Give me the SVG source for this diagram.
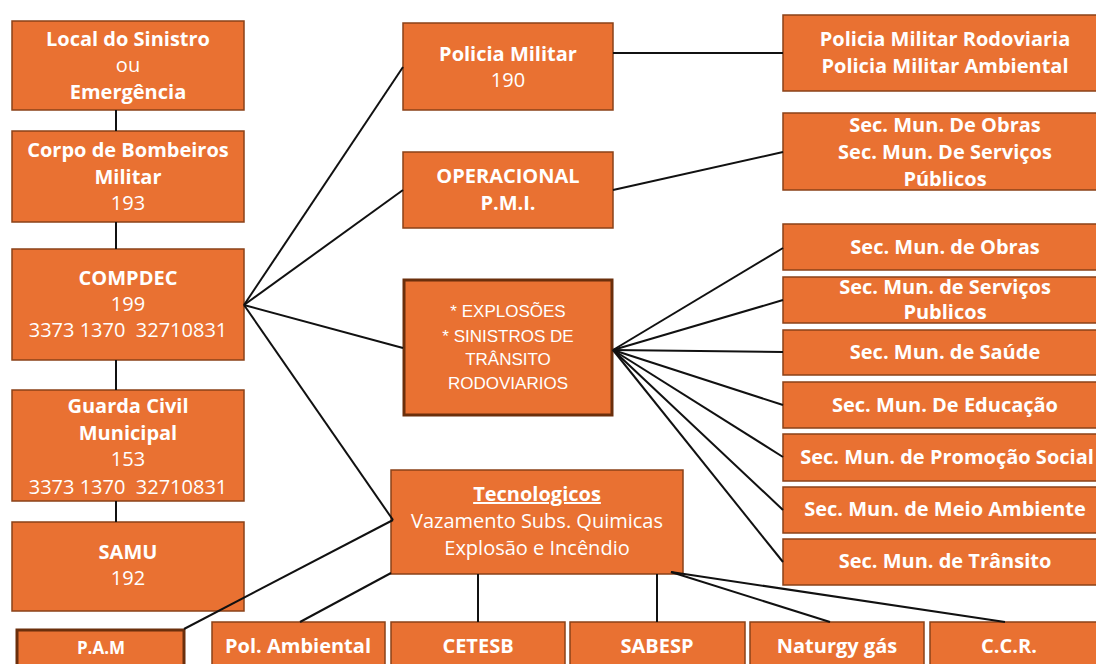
<svg xmlns="http://www.w3.org/2000/svg" width="1096" height="664" viewBox="0 0 1096 664">
<style>
.b{fill:#E97132;stroke:#8a4218;stroke-width:1.5}
.bt{fill:#E97132;stroke:#6b2f0c;stroke-width:3}
text{font-family:"Open Sans","Liberation Sans",Arial,sans-serif;fill:#fff;text-anchor:middle}
.h{font-size:20px;font-weight:bold}
.n{font-size:20px}
.s{font-size:17px;font-family:"Liberation Sans",Arial,sans-serif}
.p{font-size:17px;font-weight:bold}
.c line{stroke:#111;stroke-width:2}
</style>
<rect width="1096" height="664" fill="#fff"/>
<g id="local"><rect class="b" x="12" y="21" width="232" height="89"/><text class="h" x="128" y="46">Local do Sinistro</text><text class="n" x="128" y="72">ou</text><text class="h" x="128" y="99">Emergência</text></g>
<g id="bombeiros"><rect class="b" x="12" y="131" width="232" height="91"/><text class="h" x="128" y="157">Corpo de Bombeiros</text><text class="h" x="128" y="184">Militar</text><text class="n" x="128" y="210">193</text></g>
<g id="compdec"><rect class="b" x="12" y="249" width="232" height="111"/><text class="h" x="128" y="285">COMPDEC</text><text class="n" x="128" y="311">199</text><text class="n" x="128" y="337" xml:space="preserve">3373 1370  32710831</text></g>
<g id="guarda"><rect class="b" x="12" y="390" width="232" height="111"/><text class="h" x="128" y="413">Guarda Civil</text><text class="h" x="128" y="440">Municipal</text><text class="n" x="128" y="466">153</text><text class="n" x="128" y="494" xml:space="preserve">3373 1370  32710831</text></g>
<g id="samu"><rect class="b" x="12" y="522" width="232" height="89"/><text class="h" x="128" y="559">SAMU</text><text class="n" x="128" y="585">192</text></g>
<g id="pam"><rect class="bt" x="17" y="630" width="167" height="50"/><text class="p" x="101" y="654">P.A.M</text></g>
<g id="pm"><rect class="b" x="403" y="23" width="210" height="87"/><text class="h" x="508" y="61">Policia Militar</text><text class="n" x="508" y="87">190</text></g>
<g id="operacional"><rect class="b" x="403" y="152" width="210" height="76"/><text class="h" x="508" y="183">OPERACIONAL</text><text class="h" x="508" y="210">P.M.I.</text></g>
<g id="explosoes"><rect class="bt" x="404" y="280" width="208" height="135"/><text class="s" x="508" y="317">* EXPLOSÕES</text><text class="s" x="508" y="342">* SINISTROS DE</text><text class="s" x="508" y="365">TRÂNSITO</text><text class="s" x="508" y="389">RODOVIARIOS</text></g>
<g id="tecnologicos"><rect class="b" x="391" y="470" width="292" height="104"/><text class="h" x="537" y="501" text-decoration="underline">Tecnologicos</text><text class="n" x="537" y="528">Vazamento Subs. Quimicas</text><text class="n" x="537" y="555">Explosão e Incêndio</text></g>
<g id="pmr"><rect class="b" x="783" y="15" width="320" height="76"/><text class="h" x="945" y="46">Policia Militar Rodoviaria</text><text class="h" x="945" y="73">Policia Militar Ambiental</text></g>
<g id="smobras1"><rect class="b" x="783" y="113" width="320" height="77"/><text class="h" x="945" y="132">Sec. Mun. De Obras</text><text class="h" x="945" y="159">Sec. Mun. De Serviços</text><text class="h" x="945" y="186">Públicos</text></g>
<g id="smobras2"><rect class="b" x="783" y="224" width="320" height="46"/><text class="h" x="945" y="254">Sec. Mun. de Obras</text></g>
<g id="smservicos"><rect class="b" x="783" y="277" width="320" height="46"/><text class="h" x="945" y="294">Sec. Mun. de Serviços</text><text class="h" x="945" y="319">Publicos</text></g>
<g id="smsaude"><rect class="b" x="783" y="330" width="320" height="45"/><text class="h" x="945" y="359">Sec. Mun. de Saúde</text></g>
<g id="smeducacao"><rect class="b" x="783" y="382" width="320" height="46"/><text class="h" x="945" y="412">Sec. Mun. De Educação</text></g>
<g id="smpromocao"><rect class="b" x="783" y="434" width="320" height="47"/><text class="h" x="947" y="464">Sec. Mun. de Promoção Social</text></g>
<g id="smmeio"><rect class="b" x="783" y="487" width="320" height="46"/><text class="h" x="945" y="516">Sec. Mun. de Meio Ambiente</text></g>
<g id="smtransito"><rect class="b" x="783" y="539" width="320" height="46"/><text class="h" x="945" y="568">Sec. Mun. de Trânsito</text></g>
<g id="polamb"><rect class="b" x="212" y="622" width="173" height="60"/><text class="h" x="298" y="653">Pol. Ambiental</text></g>
<g id="cetesb"><rect class="b" x="391" y="622" width="174" height="60"/><text class="h" x="478" y="653">CETESB</text></g>
<g id="sabesp"><rect class="b" x="570" y="622" width="175" height="60"/><text class="h" x="657" y="653">SABESP</text></g>
<g id="naturgy"><rect class="b" x="750" y="622" width="174" height="60"/><text class="h" x="837" y="653">Naturgy gás</text></g>
<g id="ccr"><rect class="b" x="930" y="622" width="180" height="60"/><text class="h" x="1009" y="653">C.C.R.</text></g>
<g class="c" id="connectors">
<line x1="116" y1="110" x2="116" y2="131"/>
<line x1="116" y1="222" x2="116" y2="249"/>
<line x1="116" y1="360" x2="116" y2="390"/>
<line x1="116" y1="501" x2="116" y2="522"/>
<line x1="244" y1="305" x2="403" y2="67"/>
<line x1="244" y1="305" x2="403" y2="190"/>
<line x1="244" y1="305" x2="403" y2="348"/>
<line x1="244" y1="305" x2="393" y2="520"/>
<line x1="613" y1="53" x2="783" y2="53"/>
<line x1="613" y1="190" x2="783" y2="152"/>
<line x1="613" y1="350" x2="783" y2="248"/>
<line x1="613" y1="350" x2="783" y2="300"/>
<line x1="613" y1="350" x2="783" y2="352"/>
<line x1="613" y1="350" x2="783" y2="405"/>
<line x1="613" y1="350" x2="783" y2="457"/>
<line x1="613" y1="350" x2="783" y2="510"/>
<line x1="613" y1="350" x2="783" y2="562"/>
<line x1="393" y1="520" x2="184" y2="629"/>
<line x1="391" y1="573" x2="300" y2="622"/>
<line x1="478" y1="574" x2="478" y2="622"/>
<line x1="657" y1="574" x2="657" y2="622"/>
<line x1="671" y1="572" x2="830" y2="622"/>
<line x1="671" y1="572" x2="1005" y2="622"/>
</g>
</svg>
